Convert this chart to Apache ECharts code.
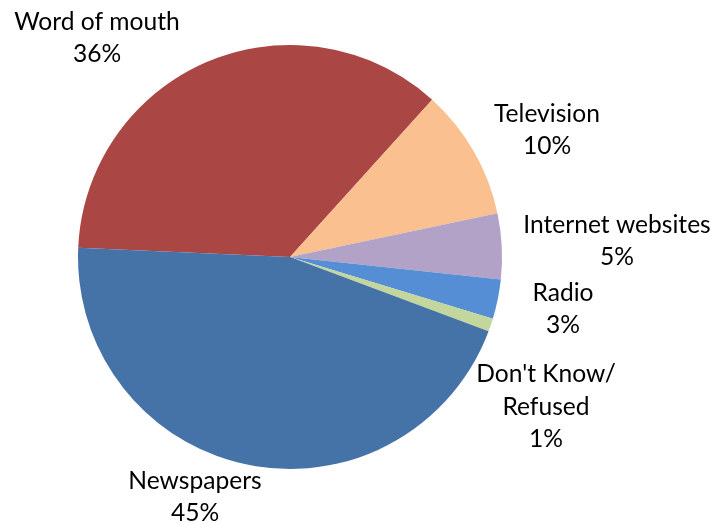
<!DOCTYPE html>
<html>
<head>
<meta charset="utf-8">
<script src="https://cdn.jsdelivr.net/npm/echarts@6/dist/echarts.min.js"></script>
<style>
  html, body { margin: 0; padding: 0; background: #ffffff; }
  #chart { width: 715px; height: 523px; }
</style>
</head>
<body>
<div id="chart"></div>
<script>
// Where people hear about things: share of respondents by source
const sources = ['Word of mouth', 'Television', 'Internet websites', 'Radio', "Don't Know/ Refused", 'Newspapers'];
const shares = [36, 10, 5, 3, 1, 45];
const sliceColors = ['#AA4643', '#FAC090', '#B2A2C7', '#558ED5', '#C3D69B', '#4572A7'];

// Label anchor points (centre of each text block), in pixels
const labelSpots = [
  [97, 38], [547, 130], [617, 241], [563, 309], [546, 407], [195, 497]
];

const chart = echarts.init(document.getElementById('chart'), null, { renderer: 'canvas' });

chart.setOption({
  animation: false,
  backgroundColor: '#ffffff',
  series: [{
    type: 'pie',
    center: [290, 257],
    radius: 212,
    startAngle: 177.5,
    clockwise: true,
    avoidLabelOverlap: false,
    data: sources.map((name, i) => ({
      name: name,
      value: shares[i],
      itemStyle: { color: sliceColors[i] }
    })),
    itemStyle: { borderWidth: 0 },
    emphasis: { disabled: true },
    label: {
      show: true,
      position: 'outside',
      formatter: p => p.name.replace('/ ', '/\n') + '\n' + p.value + '%',
      fontFamily: 'Lato, "Open Sans", sans-serif',
      fontSize: 24.6,
      lineHeight: 32.5,
      color: '#000000',
      align: 'center'
    },
    labelLine: { show: false },
    labelLayout: params => ({
      x: labelSpots[params.dataIndex][0],
      y: labelSpots[params.dataIndex][1],
      align: 'center',
      verticalAlign: 'middle'
    })
  }]
});
</script>
</body>
</html>
